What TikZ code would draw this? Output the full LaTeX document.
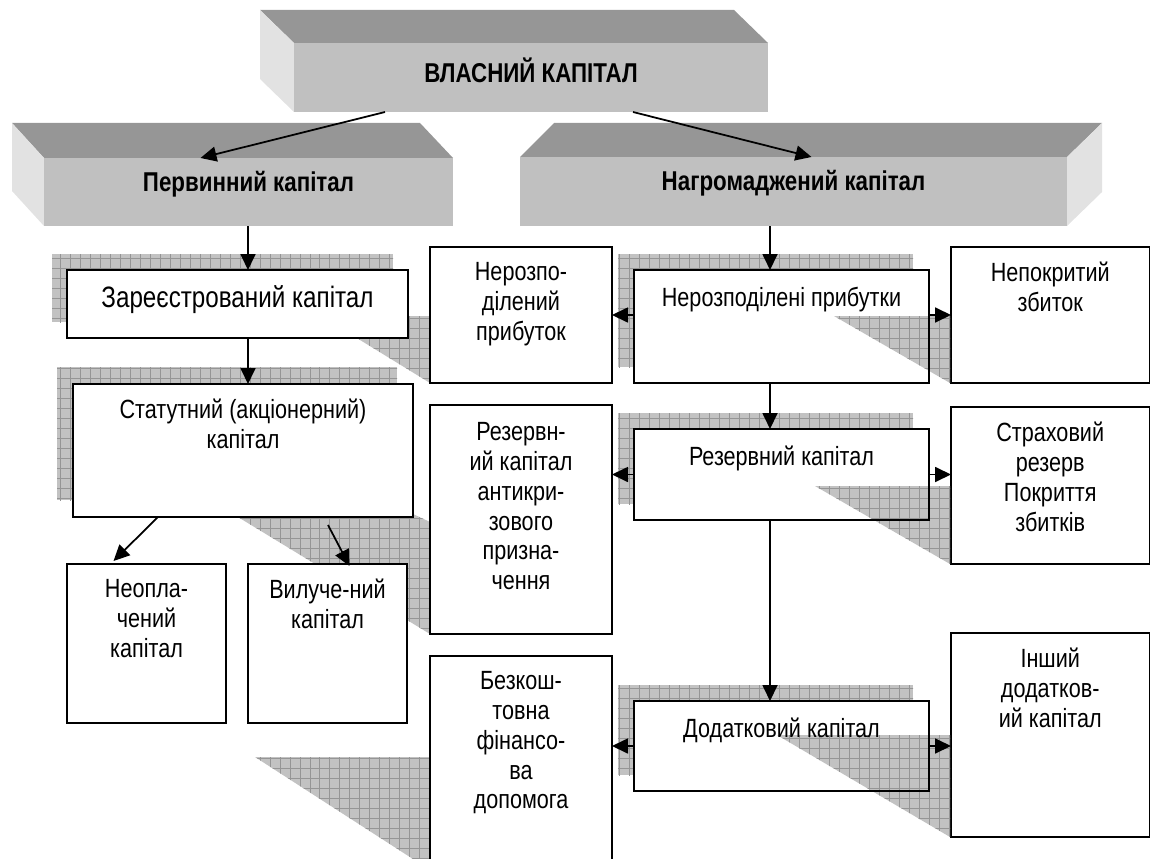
\documentclass[tikz,border=0pt]{standalone}
\usepackage{fontspec}
\setmainfont{Liberation Sans}[FakeStretch=0.82]
\usetikzlibrary{arrows.meta,calc,fit,positioning,patterns.meta}
\definecolor{facetop}{HTML}{969696}
\definecolor{facefront}{HTML}{C0C0C0}
\definecolor{faceside}{HTML}{E2E2E2}
\definecolor{shadowgray}{HTML}{C2C2C2}
\definecolor{gridgray}{HTML}{959595}
\tikzset{
>={Triangle[length=3.2mm,width=3mm]},
  cell/.style={draw, line width=1.1pt, fill=white, inner sep=0pt, outer sep=0pt},
  celltext/.style={
    align=center,
    inner sep=0pt,
    font=\fontsize{15}{17}\selectfont,
    execute at begin node=\strut},
  front/.style={fill=facefront, inner sep=0pt, outer sep=0pt},
  head/.style={font=\bfseries\fontsize{15.5}{17}\selectfont, inner sep=0pt},
  gridshadow/.style={fill=shadowgray,
    postaction={pattern={Lines[distance=0.2cm,angle=0,line width=0.5pt]}, pattern color=gridgray},
    postaction={pattern={Lines[distance=0.2cm,angle=90,line width=0.5pt]}, pattern color=gridgray}},
  conn/.style={->, line width=1pt},
}

\begin{document}
\begin{tikzpicture}[x=0.02cm, y=-0.02cm]
    \useasboundingbox (0,0) rectangle (1151,858);
    \clip (0,0) rectangle (1151,858);

    % 3d headers
    \fill[facetop] (260,10) -- (734,10) -- (768,43) -- (294,43) -- cycle;
    \fill[faceside] (260,10) -- (294,43) -- (294,112) -- (260,79) -- cycle;
    \node[front, fit={(294,43) (768,112)}] (vlasnyi) {};
    \node[head] (vlasnyi-t) at ($(vlasnyi)+(0,-7)$) {ВЛАСНИЙ КАПІТАЛ};

    \fill[facetop] (12,123) -- (420,123) -- (453,158) -- (44,158) -- cycle;
    \fill[faceside] (12,123) -- (44,158) -- (44,226) -- (12,191) -- cycle;
    \node[front, fit={(44,158) (453,226)}] (perv) {};
    \node[head] (perv-t) at ($(perv)+(0,-8)$) {Первинний капітал};

    \fill[facetop] (554,123) -- (1102,123) -- (1067,157) -- (520,157) -- cycle;
    \fill[faceside] (1067,157) -- (1102,123) -- (1102,192) -- (1067,226) -- cycle;
    \node[front, fit={(520,157) (1067,226)}] (nagr) {};
    \node[head] (nagr-t) at ($(nagr)+(0,-8)$) {Нагромаджений капітал};

    % shadows behind the boxes
    \fill[gridshadow] (52,254) rectangle (393,322);
    \fill[gridshadow] (57,367) rectangle (397,500);
    \fill[gridshadow] (618,254) rectangle (913,367);
    \fill[gridshadow] (618,413) rectangle (913,504);
    \fill[gridshadow] (618,685) rectangle (913,775);
    \fill[gridshadow] (321,316) -- (430,316) -- (430,383) -- cycle;
    \fill[gridshadow] (233,514) -- (413,514) -- (430,522) -- (430,634) -- cycle;
    \fill[gridshadow] (255,757) -- (430,757) -- (430,870) -- cycle;

    % boxes
    \node[cell, fit={(67,270) (408,338)}] (zar) {};
    \node[cell, fit={(73,384) (413,517)}] (stat) {};
    \node[cell, fit={(67,564) (226,723)}] (neopl) {};
    \node[cell, fit={(248,564) (407,723)}] (vyl) {};
    \node[cell, fit={(430,247) (612,383)}] (nerozp) {};
    \node[cell, fit={(430,405) (612,634)}] (rezn) {};
    \node[cell, fit={(430,656) (612,870)}] (bezk) {};
    \node[cell, fit={(634,270) (929,383)}] (nerozpp) {};
    \node[cell, fit={(634,429) (929,520)}] (rezk) {};
    \node[cell, fit={(634,701) (929,791)}] (dod) {};
    \node[cell, fit={(951,247) (1149.5,383)}] (nepokr) {};
    \node[cell, fit={(951,407) (1149.5,564)}] (strakh) {};
    \node[cell, fit={(951,633) (1149.5,837)}] (insh) {};

    % shadows over the middle boxes
    \fill[gridshadow] (834,316) -- (950,316) -- (950,383) -- cycle;
    \fill[gridshadow] (815,486) -- (950,486) -- (950,564) -- cycle;
    \fill[gridshadow] (777,735) -- (950,735) -- (950,837) -- cycle;
    \draw[line width=1.1pt] (nerozpp.south west) rectangle (nerozpp.north east);
    \draw[line width=1.1pt] (rezk.south west) rectangle (rezk.north east);
    \draw[line width=1.1pt] (dod.south west) rectangle (dod.north east);

    % texts
    \node[celltext, font=\fontsize{16.8}{19}\selectfont, below=0.27cm of zar.north] (zar-t) {Зареєстрований капітал};
    \node[celltext, below=0.3cm of stat.north] (stat-t) {Статутний (акціонерний)\\капітал};
    \node[celltext, below=0.3cm of neopl.north] (neopl-t) {Неопла-\\чений\\капітал};
    \node[celltext, below=0.3cm of vyl.north] (vyl-t) {Вилуче-ний\\капітал};
    \node[celltext, below=0.3cm of nerozp.north] (nerozp-t) {Нерозпо-\\ділений\\прибуток};
    \node[celltext, below=0.34cm of rezn.north] (rezn-t) {Резервн-\\ий капітал\\антикри-\\зового\\призна-\\чення};
    \node[celltext, below=0.3cm of bezk.north] (bezk-t) {Безкош-\\товна\\фінансо-\\ва\\допомога};
    \node[celltext, below=0.3cm of nerozpp.north] (nerozpp-t) {Нерозподілені прибутки};
    \node[celltext, below=0.3cm of rezk.north] (rezk-t) {Резервний капітал};
    \node[celltext, below=0.3cm of dod.north] (dod-t) {Додатковий капітал};
    \node[celltext, below=0.3cm of nepokr.north] (nepokr-t) {Непокритий\\збиток};
    \node[celltext, below=0.3cm of strakh.north] (strakh-t) {Страховий\\резерв\\Покриття\\збитків};
    \node[celltext, below=0.3cm of insh.north] (insh-t) {Інший\\додатков-\\ий капітал};

    % connectors
    \coordinate (leftaxis) at (248,0);
    \coordinate (rightaxis) at (770,0);
    \draw[conn] ($(vlasnyi.south)+(-146,0)$) -- ($(perv.north)+(-48,0)$);
    \draw[conn] ($(vlasnyi.south)+(102,0)$) -- ($(nagr.north)+(18,0)$);
    \draw[conn] (perv.south -| leftaxis) -- (zar.north -| leftaxis);
    \draw[conn] (zar.south -| leftaxis) -- (stat.north -| leftaxis);
    \draw[conn] ($(stat.south)+(-85,0)$) -- ($(neopl.north)+(-33,-3)$);
    \draw[conn] ($(stat.south)+(85,8)$) -- ($(vyl.north)+(22,2)$);
    \draw[conn] (nagr.south -| rightaxis) -- (nerozpp.north -| rightaxis);
    \draw[conn] (nerozpp.south -| rightaxis) -- (rezk.north -| rightaxis);
    \draw[conn] (rezk.south -| rightaxis) -- (dod.north -| rightaxis);
    \draw[conn] (nerozpp.west |- nerozp.east) -- (nerozp.east);
    \draw[conn] (nerozpp.east |- nepokr.west) -- (nepokr.west);
    \draw[conn] (rezk.west) -- (rezk.west -| rezn.east);
    \draw[conn] (rezk.east) -- (rezk.east -| strakh.west);
    \draw[conn] (dod.west) -- (dod.west -| bezk.east);
    \draw[conn] (dod.east) -- (dod.east -| insh.west);

\end{tikzpicture}
\end{document}
